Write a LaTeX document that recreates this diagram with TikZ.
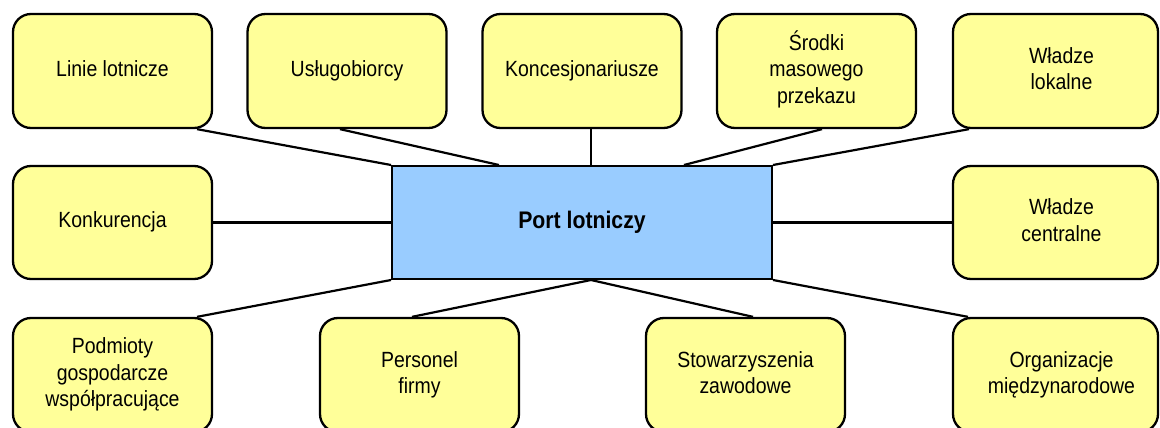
\documentclass[tikz,border=0pt]{standalone}
\usepackage{fontspec}
\setmainfont{Liberation Sans}[FakeStretch=0.885]
\usetikzlibrary{calc}
\definecolor{boxyellow}{HTML}{FFFF99}
\definecolor{portblue}{HTML}{99CCFF}
\newcommand\bxt[1]{\raisebox{2pt}{\begin{tabular}{@{}c@{}}#1\end{tabular}}}
\newcommand\rbxt[1]{\hspace*{12pt}\bxt{#1}}
\begin{document}
\begin{tikzpicture}[x=1pt,y=-1pt,
  ybox/.style={draw=black, line width=2.3pt, fill=boxyellow, rounded corners=18pt,
    minimum width=199pt, minimum height=114pt, inner sep=0pt,
    font=\fontsize{22}{26.5}\selectfont},
  widebox/.style={ybox, minimum width=205pt},
  portbox/.style={draw=black, line width=2pt, fill=portblue,
    minimum width=380pt, minimum height=113pt, inner sep=0pt,
    font=\fontsize{24}{28}\selectfont\bfseries},
  link/.style={draw=black, line width=2.2pt}]
\useasboundingbox (0,0) rectangle (1160,428);
\clip (0,0) rectangle (1160,428);
% top row
\node[ybox] (lin) at (112.5,71) {\bxt{Linie lotnicze}};
\node[ybox] (usl) at (347,71) {\bxt{Usługobiorcy}};
\node[ybox] (kon) at (582,71) {\bxt{Koncesjonariusze}};
\node[ybox] (srod) at (816.5,71) {\bxt{Środki\\masowego\\przekazu}};
\node[widebox] (wlok) at (1055.5,71) {\rbxt{Władze\\lokalne}};
% middle row
\node[ybox, minimum height=113pt] (konk) at (112.5,222.5) {\bxt{Konkurencja}};
\node[portbox] (port) at (582,222.5) {Port lotniczy};
\node[widebox, minimum height=113pt] (wcen) at (1055.5,222.5) {\rbxt{Władze\\centralne}};
% bottom row
\node[ybox] (pod) at (112.5,375) {\bxt{Podmioty\\gospodarcze\\współpracujące}};
\node[ybox] (pers) at (419.5,375) {\bxt{Personel\\firmy}};
\node[ybox] (stow) at (745.5,375) {\bxt{Stowarzyszenia\\zawodowe}};
\node[widebox] (org) at (1055.5,375) {\rbxt{Organizacje\\międzynarodowe}};
% connectors
\draw[link] ([xshift=84.5pt]lin.south) -- (port.north west);
\draw[link] ([xshift=-7pt]usl.south) -- ([xshift=108pt]port.north west);
\draw[link] ([xshift=9pt]kon.south) -- ([xshift=9pt]port.north);
\draw[link] ([xshift=5.5pt]srod.south) -- ([xshift=-89pt]port.north east);
\draw[link] ([xshift=-86.5pt]wlok.south) -- (port.north east);
\draw[link] (konk.east) -- (port.west);
\draw[link] (wcen.west) -- (port.east);
\draw[link] ([xshift=84.5pt]pod.north) -- (port.south west);
\draw[link] ([xshift=-7.5pt]pers.north) -- ([xshift=9pt]port.south);
\draw[link] ([xshift=7.5pt]stow.north) -- ([xshift=9pt]port.south);
\draw[link] ([xshift=-87.5pt]org.north) -- (port.south east);
\end{tikzpicture}
\end{document}
